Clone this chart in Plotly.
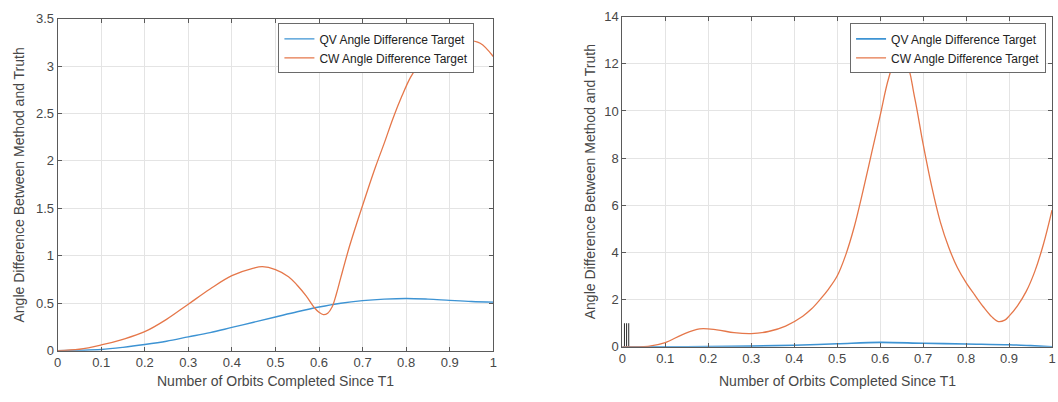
import plotly.graph_objects as go

# ---- left panel: angle difference over one orbit ----
left_x_qv = [0, 0.05, 0.1, 0.15, 0.2, 0.25, 0.3, 0.35, 0.4, 0.45, 0.5, 0.55, 0.6,
             0.65, 0.7, 0.75, 0.8, 0.85, 0.9, 0.95, 1.0]
left_qv = [0, 0.004, 0.012, 0.035, 0.065, 0.1, 0.145, 0.19, 0.245, 0.3, 0.355, 0.41,
           0.46, 0.5, 0.527, 0.543, 0.55, 0.543, 0.53, 0.518, 0.512]

left_x_cw = [0, 0.05, 0.1, 0.15, 0.2, 0.25, 0.3, 0.35, 0.4, 0.45, 0.47, 0.5, 0.53,
             0.55, 0.57, 0.59, 0.6, 0.61, 0.62, 0.63, 0.64, 0.65, 0.67, 0.69, 0.71,
             0.73, 0.75, 0.77, 0.79, 0.81, 0.83, 0.85, 0.88, 0.91, 0.94, 0.97, 1.0]
left_cw = [0, 0.015, 0.06, 0.12, 0.2, 0.33, 0.49, 0.65, 0.79, 0.87, 0.885, 0.855, 0.78,
           0.69, 0.58, 0.45, 0.405, 0.38, 0.395, 0.46, 0.6, 0.77, 1.1, 1.39, 1.67,
           1.94, 2.19, 2.45, 2.68, 2.88, 3.02, 3.12, 3.2, 3.25, 3.27, 3.24, 3.1]

# ---- right panel ----
right_x_qv = [0, 0.1, 0.2, 0.3, 0.4, 0.5, 0.6, 0.7, 0.8, 0.9, 0.95, 1.0]
right_qv = [0, 0.0, 0.01, 0.03, 0.07, 0.13, 0.19, 0.15, 0.12, 0.09, 0.05, 0.0]

right_x_cw = [0, 0.03, 0.06, 0.1, 0.14, 0.18, 0.22, 0.26, 0.3, 0.34, 0.38, 0.42,
              0.44, 0.46, 0.48, 0.5, 0.52, 0.54, 0.56, 0.58, 0.6, 0.62, 0.64,
              0.66, 0.68, 0.7, 0.72, 0.74, 0.76, 0.78, 0.8, 0.82, 0.84, 0.86,
              0.875, 0.89, 0.9, 0.92, 0.94, 0.96, 0.98, 1.0]
right_cw = [0, 0.0, 0.02, 0.18, 0.52, 0.76, 0.72, 0.6, 0.56, 0.65, 0.88, 1.3,
            1.6, 2.0, 2.45, 3.0, 3.9, 5.1, 6.6, 8.2, 9.8, 11.4, 12.35,
            12.1, 10.6, 8.6, 6.8, 5.3, 4.2, 3.35, 2.72, 2.2, 1.7, 1.27,
            1.07, 1.13, 1.3, 1.75, 2.35, 3.2, 4.35, 5.8]

# three short marker stems near the origin of the right panel
stem_x = [0.005, 0.01, 0.015]
stem_top = 1

x_ticks = [0, 0.1, 0.2, 0.3, 0.4, 0.5, 0.6, 0.7, 0.8, 0.9, 1]
x_tick_text = ["0", "0.1", "0.2", "0.3", "0.4", "0.5", "0.6", "0.7", "0.8", "0.9", "1"]

series_names = ["QV Angle Difference Target", "CW Angle Difference Target"]
BLUE = "#3d93d3"
ORANGE = "#e5774a"
AXIS = "#5a5a5a"
GRID = "#e4e4e4"
TEXT = "#474747"
FONT = "Liberation Sans, Arial, sans-serif"

fig = go.Figure()

line_kw = dict(shape="spline", smoothing=1.0)

fig.add_trace(go.Scatter(x=left_x_qv, y=left_qv, name=series_names[0], mode="lines",
                         line=dict(color=BLUE, width=1.4, **line_kw),
                         xaxis="x", yaxis="y", legend="legend"))
fig.add_trace(go.Scatter(x=left_x_cw, y=left_cw, name=series_names[1], mode="lines",
                         line=dict(color=ORANGE, width=1.3, **line_kw),
                         xaxis="x", yaxis="y", legend="legend"))

stem_xs, stem_ys = [], []
for sx in stem_x:
    stem_xs += [sx, sx, None]
    stem_ys += [0, stem_top, None]
fig.add_trace(go.Scatter(x=stem_xs, y=stem_ys, mode="lines", showlegend=False,
                         line=dict(color="#2a2a2a", width=1), xaxis="x2", yaxis="y2",
                         hoverinfo="skip"))

fig.add_trace(go.Scatter(x=right_x_qv, y=right_qv, name=series_names[0], mode="lines",
                         line=dict(color=BLUE, width=1.6, **line_kw),
                         xaxis="x2", yaxis="y2", legend="legend2"))
fig.add_trace(go.Scatter(x=right_x_cw, y=right_cw, name=series_names[1], mode="lines",
                         line=dict(color=ORANGE, width=1.3, **line_kw),
                         xaxis="x2", yaxis="y2", legend="legend2"))

W, H = 1058, 402


def xdom(a, b):
    return [a / W, b / W]


def ydom(top, bottom):
    return [(H - bottom) / H, (H - top) / H]


axis_common = dict(showline=True, linecolor=AXIS, linewidth=1, mirror="ticks",
                   ticks="inside", ticklen=4, tickcolor=AXIS, showgrid=True,
                   gridcolor=GRID, gridwidth=1, zeroline=False,
                   tickfont=dict(family=FONT, size=13, color=TEXT))

legend_common = dict(bgcolor="white", bordercolor="#6a6a6a", borderwidth=1,
                     font=dict(family=FONT, size=12, color="#222222"),
                     xanchor="right", yanchor="top", tracegroupgap=0,
                     itemwidth=30)

fig.update_layout(
    width=W, height=H,
    margin=dict(l=0, r=0, t=0, b=0),
    paper_bgcolor="white", plot_bgcolor="white",
    xaxis=dict(domain=xdom(54, 493), range=[0, 1], tickvals=x_ticks,
               ticktext=x_tick_text, anchor="y", **axis_common),
    yaxis=dict(domain=ydom(12, 357), range=[0, 3.5], dtick=0.5, anchor="x",
               **axis_common),
    xaxis2=dict(domain=xdom(623, 1056), range=[0, 1], tickvals=x_ticks,
                ticktext=x_tick_text, anchor="y2", **axis_common),
    yaxis2=dict(domain=ydom(10, 353), range=[0, 14], dtick=2, anchor="x2",
                **axis_common),
    legend=dict(x=474 / W, y=(H - 17) / H, **legend_common),
    legend2=dict(x=1050 / W, y=(H - 17) / H, **legend_common),
    showlegend=True,
)

title_font = dict(family=FONT, size=14, color=TEXT)
x_title = "Number of Orbits Completed Since T1"
y_title = "Angle Difference Between Method and Truth"
for cx, cy in [((54 + 493) / 2, 389), ((623 + 1056) / 2, 388)]:
    fig.add_annotation(text=x_title, x=cx / W, y=(H - cy) / H, xref="paper",
                       yref="paper", showarrow=False, font=title_font,
                       xanchor="center", yanchor="middle")
for cx, cy in [(15, (12 + 357) / 2), (590, (10 + 353) / 2)]:
    fig.add_annotation(text=y_title, x=cx / W, y=(H - cy) / H, xref="paper",
                       yref="paper", showarrow=False, font=title_font,
                       textangle=-90, xanchor="center", yanchor="middle")

fig.write_html("out.html")
